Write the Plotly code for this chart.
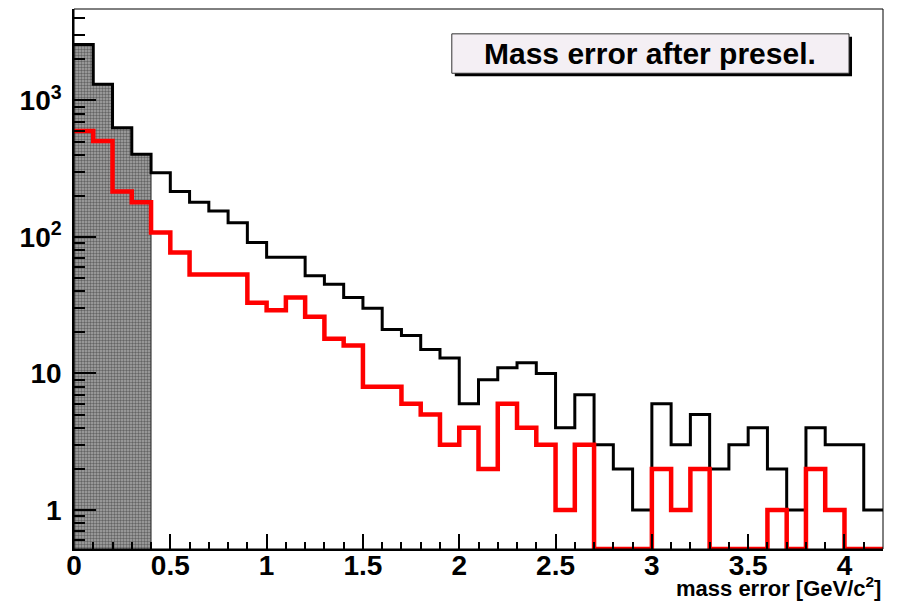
import math
import plotly.graph_objects as go

# ---- data ----
bin_edges = [round(i * 0.1, 1) for i in range(43)]  # 0.0 .. 4.2
black_counts = [2570, 1315, 632, 403, 296, 215, 180, 155, 127, 91,
                71, 71, 52, 45, 36, 30, 21, 19, 15, 13,
                6, 9, 11, 12, 10, 4, 7, 3, 2, 1,
                6, 3, 5, 2, 3, 4, 2, 1, 4, 3,
                3, 1]
red_counts = [598, 505, 215, 180, 108, 77, 53, 53, 53, 33,
              29, 36, 26, 18, 16, 8, 8, 6, 5, 3,
              4, 2, 6, 4, 3, 1, 3, 0, 0, 0,
              2, 1, 2, 0, 0, 0, 1, 0, 2, 1,
              0, 0]
cut_counts = [2570, 1315, 632, 403]  # shaded region (first four bins)
title_text = "Mass error after presel."
x_title = "mass error [GeV/c<sup>2</sup>]"
y_tickvals = [1, 10, 100, 1000]
y_ticktext = ["1", "10", "10<sup>2</sup>", "10<sup>3</sup>"]

LOG_MIN, LOG_MAX = -0.2857, 3.670
YMIN = 10 ** LOG_MIN


def step(counts):
    ys = [c if c > 0 else YMIN for c in counts]
    xs = bin_edges[:len(counts) + 1]
    return xs, ys + [ys[-1]]


fig = go.Figure()

# shaded region polygon
cx = [0.0]
cy = [YMIN]
for i, c in enumerate(cut_counts):
    cx += [bin_edges[i], bin_edges[i + 1]]
    cy += [c, c]
cx.append(bin_edges[len(cut_counts)])
cy.append(YMIN)
fig.add_trace(go.Scatter(
    x=cx, y=cy, mode="lines", fill="toself",
    fillcolor="#808080",
    fillpattern=dict(shape=".", bgcolor="#a8a8a8", fgcolor="#202020",
                     size=3, solidity=0.5),
    line=dict(color="#333333", width=1), showlegend=False, hoverinfo="skip"))

bx, by = step(black_counts)
fig.add_trace(go.Scatter(x=bx, y=by, mode="lines", line_shape="hv",
                         line=dict(color="black", width=3), showlegend=False))
rx, ry = step(red_counts)
fig.add_trace(go.Scatter(x=rx, y=ry, mode="lines", line_shape="hv",
                         line=dict(color="#ff0000", width=4.5), showlegend=False))

font_family = "Liberation Sans, Arial, Helvetica, sans-serif"

minor_y = [m * 10 ** k for k in range(-1, 4) for m in range(2, 10)
           if LOG_MIN < math.log10(m * 10 ** k) < LOG_MAX]

fig.update_layout(
    width=891, height=595,
    margin=dict(l=66, r=16, t=1, b=54),
    paper_bgcolor="white", plot_bgcolor="white",
    font=dict(family=font_family, color="black"),
    xaxis=dict(
        range=[0, 4.2], showgrid=False, zeroline=False,
        showline=True, linecolor="black", linewidth=2,
        ticks="inside", ticklen=15, tickwidth=1.5, tickcolor="black",
        dtick=0.5, tick0=0, ticklabelstandoff=-10,
        tickfont=dict(size=28, weight="bold", family=font_family),
        minor=dict(ticks="inside", ticklen=7, dtick=0.1, tick0=0,
                   tickcolor="black", tickwidth=1.5),
    ),
    yaxis=dict(
        type="log", range=[LOG_MIN, LOG_MAX], showgrid=False, zeroline=False,
        showline=True, linecolor="black", linewidth=1.5,
        ticks="inside", ticklen=22, tickwidth=1.5, tickcolor="black",
        tickvals=y_tickvals, ticktext=y_ticktext, ticklabelstandoff=5,
        tickfont=dict(size=28, weight="bold", family=font_family),
        minor=dict(ticks="inside", ticklen=11, tickcolor="black", tickwidth=1.5,
                   tickvals=minor_y),
    ),
    shapes=[
        dict(type="rect", xref="paper", yref="paper", x0=0, x1=1, y0=0, y1=1,
             line=dict(color="black", width=1), layer="above"),
        # title box shadow and box
        dict(type="rect", xref="paper", yref="paper",
             x0=0.4707, x1=0.9617, y0=0.8754, y1=0.9484,
             fillcolor="black", line=dict(width=0), layer="above"),
        dict(type="rect", xref="paper", yref="paper",
             x0=0.467, x1=0.958, y0=0.881, y1=0.954,
             fillcolor="#f4eff4", line=dict(color="#333333", width=1), layer="above"),
    ],
    annotations=[
        dict(text=title_text, xref="paper", yref="paper", x=0.7125, y=0.9175,
             xanchor="center", yanchor="middle", showarrow=False,
             font=dict(size=30, weight="bold", family=font_family)),
        dict(text=x_title, xref="paper", yref="paper", x=1.0, y=-0.071,
             xanchor="right", yanchor="middle", showarrow=False,
             font=dict(size=22, weight="bold", family=font_family)),
    ],
)

fig.write_html("out.html")
